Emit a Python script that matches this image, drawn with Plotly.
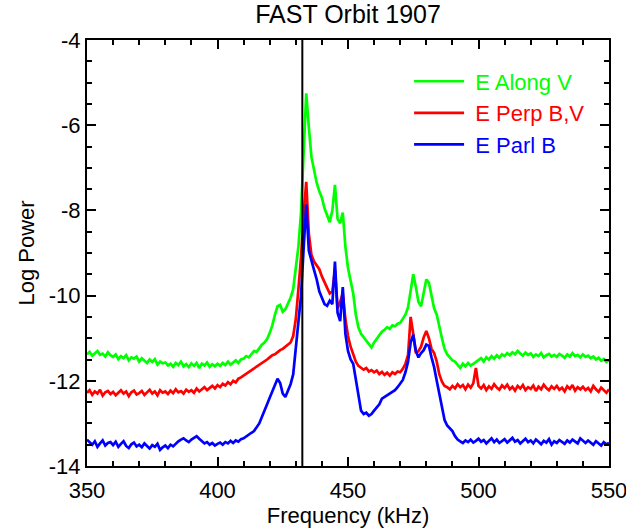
import numpy as np
import plotly.graph_objects as go

# frequency grid, 1 kHz steps
freq_khz = np.arange(350, 551, 1)

# log power, E along V (green)
e_along_v = [
    -11.38, -11.32, -11.41, -11.35, -11.30, -11.39, -11.36, -11.43, -11.33, -11.40,
    -11.44, -11.38, -11.49, -11.42, -11.47, -11.40, -11.52, -11.45, -11.48, -11.43,
    -11.55, -11.47, -11.52, -11.58, -11.50, -11.56, -11.49, -11.62, -11.55, -11.59,
    -11.57, -11.64, -11.60, -11.67, -11.58, -11.63, -11.55, -11.66, -11.61, -11.68,
    -11.59, -11.65, -11.58, -11.70, -11.60, -11.64, -11.57, -11.67, -11.61, -11.66,
    -11.60, -11.65, -11.58, -11.63, -11.55, -11.62, -11.57, -11.52, -11.58, -11.50,
    -11.48, -11.42, -11.45, -11.36, -11.30, -11.32, -11.22, -11.15, -11.10, -11.02,
    -10.88, -10.70, -10.45, -10.25, -10.22, -10.38, -10.32, -10.18, -10.05, -9.85,
    -9.35, -8.85, -8.05, -6.60, -5.25, -6.05, -6.75, -7.05, -7.35, -7.55,
    -7.70, -7.95, -8.10, -8.28, -8.00, -7.40, -8.20, -8.30, -8.05, -8.85,
    -9.35, -9.70, -9.95, -10.45, -10.75, -10.90, -10.98, -11.05, -11.12, -11.22,
    -11.10, -11.02, -10.92, -10.85, -10.80, -10.74, -10.78, -10.70, -10.72, -10.66,
    -10.64, -10.55, -10.45, -10.28, -9.85, -9.50, -9.80, -10.15, -10.25, -9.95,
    -9.62, -9.70, -10.05, -10.30, -10.45, -10.75, -11.00, -11.25, -11.38, -11.45,
    -11.52, -11.55, -11.62, -11.70, -11.60, -11.66, -11.58, -11.64, -11.60, -11.55,
    -11.52, -11.47, -11.55, -11.45, -11.50, -11.42, -11.48, -11.40, -11.46, -11.38,
    -11.42, -11.35, -11.40, -11.33, -11.38, -11.30, -11.36, -11.41, -11.34, -11.39,
    -11.36, -11.44, -11.38, -11.42, -11.35, -11.45, -11.40, -11.37, -11.43, -11.39,
    -11.44, -11.37, -11.41, -11.46, -11.38, -11.43, -11.35, -11.42, -11.39, -11.45,
    -11.38, -11.44, -11.41, -11.47, -11.43, -11.50, -11.46, -11.53, -11.49, -11.56,
    -11.52,
]

# log power, E perp B,V (red)
e_perp_bv = [
    -12.28, -12.22, -12.33, -12.25, -12.30, -12.21, -12.35, -12.27, -12.24, -12.31,
    -12.26, -12.34, -12.28, -12.22, -12.30, -12.25, -12.36, -12.27, -12.23, -12.32,
    -12.29, -12.24, -12.33, -12.26, -12.21, -12.30, -12.25, -12.34, -12.22, -12.28,
    -12.25, -12.31, -12.23, -12.29, -12.20, -12.27, -12.24, -12.30, -12.21, -12.26,
    -12.22, -12.28, -12.18, -12.25, -12.20, -12.15, -12.22, -12.17, -12.12, -12.18,
    -12.10, -12.15, -12.07, -12.11, -12.03, -12.08, -12.00, -12.04, -11.95, -11.92,
    -11.88, -11.84, -11.80, -11.76, -11.72, -11.68, -11.63, -11.60, -11.55, -11.50,
    -11.45, -11.40, -11.38, -11.32, -11.28, -11.25, -11.20, -11.15, -11.10, -10.95,
    -10.55, -9.85, -9.10, -8.10, -7.33, -8.55, -9.05, -9.20, -9.30, -9.38,
    -9.55, -9.70, -9.82, -9.95, -9.90, -9.40, -10.30, -10.15, -9.95, -10.55,
    -10.95, -11.20, -11.38, -11.55, -11.65, -11.70, -11.74, -11.70, -11.78, -11.75,
    -11.80, -11.76, -11.84, -11.79, -11.86, -11.81, -11.88, -11.80, -11.84, -11.78,
    -11.80, -11.72, -11.60, -11.40, -10.50, -10.90, -11.35, -11.30, -11.20, -10.98,
    -10.83, -11.00, -11.25, -11.35, -11.55, -11.85, -12.02, -12.12, -12.15, -12.20,
    -12.12, -12.18, -12.08, -12.15, -12.10, -12.20, -12.09, -12.16, -12.06, -11.70,
    -12.12, -12.18, -12.10, -12.22, -12.13, -12.19, -12.08, -12.16, -12.21, -12.11,
    -12.17, -12.09, -12.20, -12.14, -12.23, -12.12, -12.18, -12.10, -12.22, -12.15,
    -12.19, -12.11, -12.24, -12.14, -12.20, -12.09, -12.17, -12.22, -12.13, -12.19,
    -12.12, -12.21, -12.16, -12.25, -12.13, -12.19, -12.10, -12.23, -12.15, -12.20,
    -12.14, -12.22, -12.17, -12.25, -12.12, -12.20, -12.26, -12.16, -12.23, -12.28,
    -12.20,
]

# log power, E parallel B (blue)
e_parl_b = [
    -13.38, -13.45, -13.50, -13.42, -13.55, -13.47, -13.40, -13.52, -13.46, -13.44,
    -13.51, -13.43, -13.55, -13.48, -13.42, -13.53, -13.58, -13.49, -13.45, -13.54,
    -13.50, -13.56, -13.47, -13.53, -13.59, -13.51, -13.55, -13.48, -13.62, -13.56,
    -13.52, -13.58, -13.50, -13.54, -13.47, -13.42, -13.38, -13.35, -13.40, -13.44,
    -13.38, -13.33, -13.30, -13.36, -13.42, -13.47, -13.44, -13.50, -13.46, -13.52,
    -13.48, -13.45, -13.50, -13.44, -13.47, -13.41, -13.46, -13.40, -13.43, -13.37,
    -13.35, -13.30, -13.25, -13.22, -13.18, -13.10, -13.00, -12.85, -12.72, -12.55,
    -12.40, -12.25, -12.10, -11.95, -12.05, -12.30, -12.38, -12.25, -12.08, -11.85,
    -11.25, -10.70, -10.00, -8.90, -7.86, -8.95, -9.20, -9.40, -9.62, -9.90,
    -10.05, -10.20, -10.24, -10.12, -10.20, -9.20, -10.40, -10.60, -9.80, -10.90,
    -11.30, -11.50, -11.60, -11.95, -12.40, -12.70, -12.78, -12.75, -12.82, -12.78,
    -12.70, -12.62, -12.55, -12.42, -12.38, -12.35, -12.30, -12.28, -12.22, -12.15,
    -12.05, -11.98, -11.80, -11.55, -11.10, -10.92, -11.30, -11.45, -11.35, -11.28,
    -11.15, -11.18, -11.45, -11.68, -12.00, -12.30, -12.60, -12.92, -13.05, -13.12,
    -13.18, -13.30, -13.38, -13.42, -13.46, -13.40, -13.44, -13.38, -13.45, -13.41,
    -13.36, -13.43, -13.39, -13.47, -13.40, -13.35, -13.44, -13.38, -13.46, -13.41,
    -13.37, -13.45, -13.40, -13.34, -13.43, -13.39, -13.47, -13.41, -13.36, -13.44,
    -13.40, -13.47, -13.38, -13.43, -13.49, -13.41, -13.45, -13.37, -13.50, -13.42,
    -13.46, -13.39, -13.44, -13.48, -13.40, -13.45, -13.38, -13.43, -13.47, -13.35,
    -13.41, -13.46, -13.40, -13.44, -13.50, -13.42, -13.47, -13.52, -13.44, -13.49,
    -13.46,
]

series_names = ['E Along V', 'E Perp B,V', 'E Parl B']
series_colors = ['#00ff00', '#ff0000', '#0000ff']

x_ticks = [350, 400, 450, 500, 550]
y_ticks = [-14, -12, -10, -8, -6, -4]
cutoff_khz = 432.5  # vertical marker

font = 'Liberation Sans, Arial, sans-serif'

fig = go.Figure()
for name, vals, col in zip(series_names, [e_along_v, e_perp_bv, e_parl_b], series_colors):
    fig.add_trace(go.Scatter(
        x=freq_khz, y=vals, mode='lines', legendgroup=name,
        name=f'<span style="color:{col}">&nbsp;{name}</span>',
        line=dict(color=col, width=2.7),
    ))

fig.add_shape(type='line', xref='x', yref='y', x0=cutoff_khz, x1=cutoff_khz,
              y0=-14, y1=-4, line=dict(color='black', width=2))

axis_common = dict(
    showline=True, linecolor='black', linewidth=2, mirror='ticks',
    ticks='inside', ticklen=9, tickwidth=2, tickcolor='black',
    showgrid=False, zeroline=False, ticklabeloverflow='allow', automargin=False,
    tickfont=dict(family=font, size=22, color='black'),
)

fig.update_xaxes(
    range=[350, 550], tickvals=x_ticks, ticktext=[str(t) for t in x_ticks],
    minor=dict(dtick=10, ticklen=5, tickwidth=2, ticks='inside', tickcolor='black'),
    ticklabelstandoff=4,
    title=dict(text='Frequency (kHz)', font=dict(family=font, size=22, color='black'), standoff=2),
    **axis_common,
)
fig.update_yaxes(
    range=[-14, -4], tickvals=y_ticks, ticktext=[str(t) for t in y_ticks],
    minor=dict(dtick=0.5, ticklen=5, tickwidth=2, ticks='inside', tickcolor='black'),
    title=dict(text='Log Power', font=dict(family=font, size=22, color='black'), standoff=8),
    **axis_common,
)

fig.update_layout(
    template='none',
    width=626, height=531,
    margin=dict(l=87, r=17, t=40, b=65, autoexpand=False),
    paper_bgcolor='white', plot_bgcolor='white',
    title=dict(text='FAST Orbit 1907', x=0.556, xanchor='center', y=0.974, yanchor='middle',
               font=dict(family=font, size=25, color='black')),
    showlegend=True,
    legend=dict(x=0.617, y=0.952, xanchor='left', yanchor='top',
                bgcolor='rgba(0,0,0,0)', itemwidth=50, tracegroupgap=0,
                font=dict(family=font, size=22)),
)

# drop the default page margin so the figure sits at the window origin
fig.write_html('out.html', config={'displayModeBar': False},
               post_script="document.body.style.margin='0';")
